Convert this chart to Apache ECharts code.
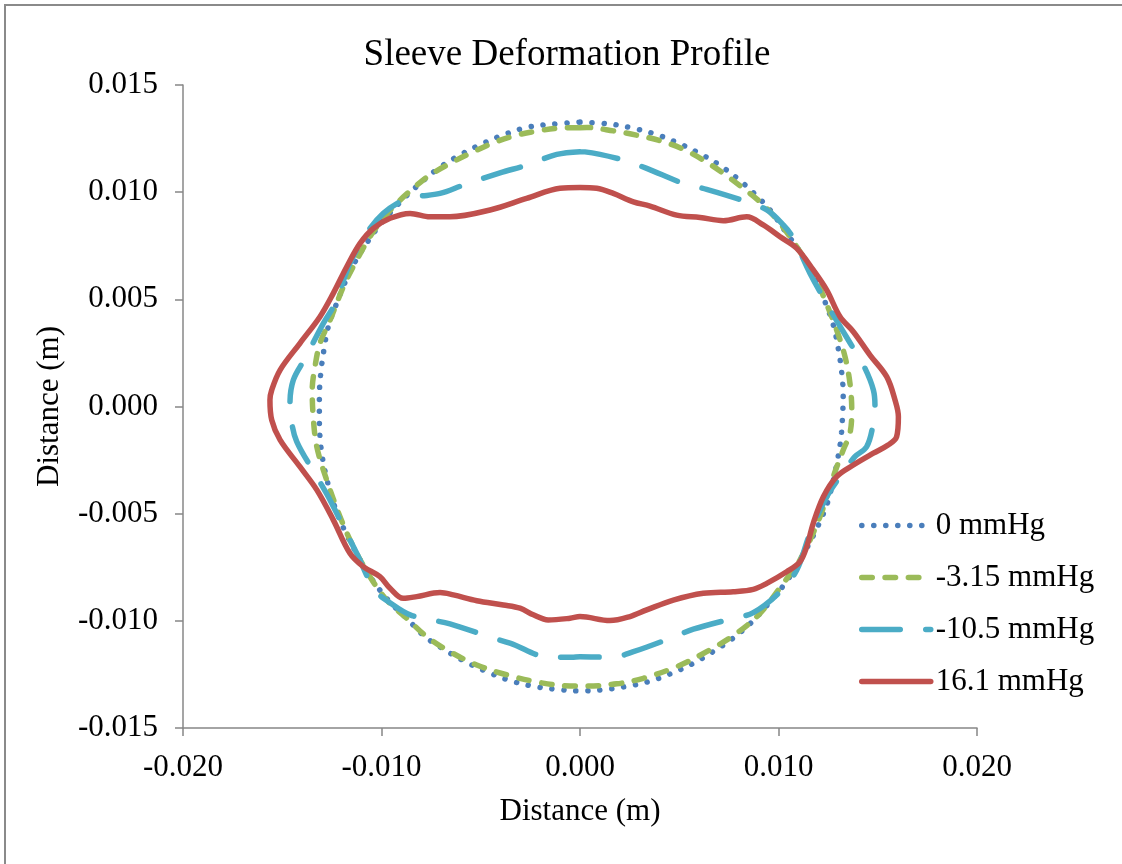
<!DOCTYPE html>
<html>
<head>
<meta charset="utf-8">
<title>Sleeve Deformation Profile</title>
<script src="https://cdn.jsdelivr.net/npm/echarts@6/dist/echarts.min.js"></script>
<style>
  html, body { margin: 0; padding: 0; background: #ffffff; }
  #chart { width: 1122px; height: 864px; }
</style>
</head>
<body>
<div id="chart"></div>
<script>
// Sleeve cross-section outlines (metres) at four pressure levels, traced clockwise from the top.
const seriesNames = ['0 mmHg', '-3.15 mmHg', '-10.5 mmHg', '16.1 mmHg'];

const p0X = [0, 0.00151, 0.00269, 0.00378, 0.00487, 0.00596, 0.00697, 0.00797, 0.00882, 0.00957, 0.01041, 0.01125, 0.01184, 0.01234, 0.01276, 0.01301, 0.01318, 0.01326, 0.01323, 0.01315, 0.01298, 0.01275, 0.01243, 0.01190, 0.01125, 0.01049, 0.00950, 0.00856, 0.00764, 0.00663, 0.00563, 0.00453, 0.00344, 0.00227, 0.00109, 0, -0.00126, -0.00243, -0.00361, -0.00470, -0.00579, -0.00680, -0.00781, -0.00865, -0.00960, -0.01045, -0.01120, -0.01185, -0.01240, -0.01280, -0.01305, -0.01313, -0.01313, -0.01306, -0.01290, -0.01268, -0.01226, -0.01159, -0.01090, -0.01010, -0.00920, -0.00825, -0.00715, -0.00596, -0.00487, -0.00378, -0.00269, -0.00151, 0];
const p0Y = [0.01327, 0.01318, 0.01298, 0.01271, 0.01232, 0.01184, 0.01130, 0.01061, 0.00990, 0.00917, 0.00808, 0.00699, 0.00598, 0.00489, 0.00380, 0.00271, 0.00162, 0.00054, -0.00040, -0.00145, -0.00245, -0.00350, -0.00460, -0.00575, -0.00690, -0.00805, -0.00920, -0.01014, -0.01086, -0.01148, -0.01202, -0.01248, -0.01284, -0.01307, -0.01322, -0.01327, -0.01319, -0.01304, -0.01276, -0.01237, -0.01190, -0.01136, -0.01074, -0.00996, -0.00910, -0.00810, -0.00695, -0.00580, -0.00455, -0.00320, -0.00190, -0.00060, 0.00046, 0.00155, 0.00264, 0.00372, 0.00481, 0.00629, 0.00740, 0.00845, 0.00940, 0.01025, 0.01110, 0.01178, 0.01228, 0.01270, 0.01302, 0.01316, 0.01327];

const m315X = [0, 0.00034, 0.00168, 0.00286, 0.00403, 0.00521, 0.00621, 0.00722, 0.00823, 0.00915, 0.01008, 0.01092, 0.01175, 0.01234, 0.01293, 0.01335, 0.01360, 0.01369, 0.01360, 0.01326, 0.01276, 0.01209, 0.01108, 0.01024, 0.00907, 0.00789, 0.00638, 0.00487, 0.00319, 0.00185, 0.00034, -0.00050, -0.00202, -0.00369, -0.00520, -0.00655, -0.00772, -0.00873, -0.00974, -0.01058, -0.01142, -0.01209, -0.01276, -0.01326, -0.01344, -0.01349, -0.01335, -0.01310, -0.01259, -0.01192, -0.01125, -0.01058, -0.00991, -0.00923, -0.00840, -0.00756, -0.00655, -0.00554, -0.00437, -0.00336, -0.00218, -0.00084, 0];
const m315Y = [0.01301, 0.01302, 0.01286, 0.01266, 0.01240, 0.01200, 0.01150, 0.01088, 0.01018, 0.00948, 0.00854, 0.00745, 0.00621, 0.00497, 0.00357, 0.00233, 0.00108, -0.00016, -0.00125, -0.00203, -0.00327, -0.00514, -0.00716, -0.00825, -0.00965, -0.01058, -0.01144, -0.01214, -0.01268, -0.01294, -0.01304, -0.01304, -0.01288, -0.01252, -0.01206, -0.01144, -0.01074, -0.00988, -0.00903, -0.00794, -0.00654, -0.00514, -0.00343, -0.00188, -0.00048, 0.00077, 0.00186, 0.00295, 0.00403, 0.00559, 0.00683, 0.00792, 0.00878, 0.00948, 0.01018, 0.01080, 0.01134, 0.01181, 0.01230, 0.01262, 0.01285, 0.01300, 0.01301];

const m105X = [0, 0.00025, 0.00218, 0.00336, 0.00520, 0.00638, 0.00823, 0.00941, 0.01024, 0.01075, 0.01159, 0.01276, 0.01377, 0.01436, 0.01478, 0.01486, 0.01478, 0.01444, 0.01385, 0.01310, 0.01243, 0.01159, 0.01092, 0.01008, 0.00873, 0.00772, 0.00571, 0.00470, 0.00269, 0.00160, 0, -0.00042, -0.00151, -0.00353, -0.00453, -0.00655, -0.00764, -0.00856, -0.00941, -0.01033, -0.01125, -0.01192, -0.01268, -0.01326, -0.01427, -0.01456, -0.01461, -0.01444, -0.01385, -0.01293, -0.01234, -0.01159, -0.01075, -0.00991, -0.00890, -0.00823, -0.00705, -0.00588, -0.00403, -0.00269, -0.00117, 0];
const m105Y = [0.01189, 0.01188, 0.01150, 0.01111, 0.01041, 0.01013, 0.00960, 0.00917, 0.00847, 0.00785, 0.00621, 0.00427, 0.00271, 0.00178, 0.00077, -0.00001, -0.00078, -0.00188, -0.00234, -0.00327, -0.00421, -0.00591, -0.00763, -0.00864, -0.00962, -0.00988, -0.01039, -0.01076, -0.01144, -0.01170, -0.01167, -0.01170, -0.01170, -0.01104, -0.01076, -0.01014, -0.00993, -0.00972, -0.00926, -0.00856, -0.00685, -0.00561, -0.00421, -0.00327, -0.00164, -0.00055, 0.00015, 0.00124, 0.00225, 0.00388, 0.00481, 0.00668, 0.00808, 0.00901, 0.00963, 0.00979, 0.00994, 0.01033, 0.01090, 0.01126, 0.01176, 0.01189];

const p161X = [0, 0.00084, 0.00168, 0.00269, 0.00353, 0.00487, 0.00605, 0.00722, 0.00840, 0.00923, 0.01008, 0.01092, 0.01175, 0.01243, 0.01310, 0.01377, 0.01461, 0.01545, 0.01587, 0.01604, 0.01595, 0.01552, 0.01478, 0.01377, 0.01293, 0.01226, 0.01175, 0.01142, 0.01108, 0.01041, 0.00941, 0.00873, 0.00772, 0.00621, 0.00470, 0.00336, 0.00252, 0.00151, 0, -0.00050, -0.00160, -0.00235, -0.00302, -0.00386, -0.00520, -0.00638, -0.00705, -0.00823, -0.00890, -0.00957, -0.01008, -0.01092, -0.01159, -0.01243, -0.01326, -0.01411, -0.01511, -0.01553, -0.01562, -0.01553, -0.01511, -0.01411, -0.01310, -0.01243, -0.01175, -0.01108, -0.01041, -0.00957, -0.00856, -0.00756, -0.00655, -0.00453, -0.00269, -0.00101, 0];
const p161Y = [0.01022, 0.01018, 0.00994, 0.00955, 0.00935, 0.00893, 0.00882, 0.00867, 0.00885, 0.00847, 0.00792, 0.00738, 0.00637, 0.00543, 0.00419, 0.00349, 0.00240, 0.00139, 0.00030, -0.00048, -0.00141, -0.00180, -0.00218, -0.00273, -0.00327, -0.00421, -0.00545, -0.00654, -0.00724, -0.00771, -0.00825, -0.00853, -0.00864, -0.00871, -0.00903, -0.00949, -0.00980, -0.00999, -0.00980, -0.00988, -0.00996, -0.00972, -0.00941, -0.00926, -0.00906, -0.00879, -0.00868, -0.00887, -0.00895, -0.00848, -0.00794, -0.00747, -0.00685, -0.00529, -0.00389, -0.00281, -0.00156, -0.00063, 0.00030, 0.00077, 0.00170, 0.00295, 0.00419, 0.00528, 0.00652, 0.00761, 0.00831, 0.00878, 0.00901, 0.00885, 0.00885, 0.00917, 0.00971, 0.01018, 0.01022];

// Axis ranges and tick steps
const xTicks = { min: -0.02, max: 0.02, step: 0.01 };
const yTicks = { min: -0.015, max: 0.015, step: 0.005 };

const SERIF = "'Liberation Serif', 'Times New Roman', serif";
const AXIS_GRAY = '#878787';
const LABEL_SIZE = 31;

function zip(xs, ys) {
  return xs.map((x, i) => [x, ys[i]]);
}
function fmt(v) {
  return Math.abs(v) < 1e-9 ? '0.000' : v.toFixed(3);
}

const styles = [
  { color: '#4A7EBB', width: 5.5, type: [0.1, 11.9] },
  { color: '#9BBB59', width: 5.5, type: [10.5, 12.8] },
  { color: '#4BACC6', width: 5.5, type: [38.5, 25.5] },
  { color: '#C0504D', width: 5.5, type: 'solid' }
];
const outlines = [zip(p0X, p0Y), zip(m315X, m315Y), zip(m105X, m105Y), zip(p161X, p161Y)];

const axisCommon = {
  type: 'value',
  nameLocation: 'middle',
  nameTextStyle: { fontFamily: SERIF, fontSize: LABEL_SIZE, color: '#000', lineHeight: 30 },
  axisLine: { show: true, onZero: false, lineStyle: { color: AXIS_GRAY, width: 1.5 } },
  axisTick: { show: true, inside: false, length: 8, lineStyle: { color: AXIS_GRAY, width: 1.5 } },
  splitLine: { show: false },
  axisLabel: { fontFamily: SERIF, fontSize: LABEL_SIZE, color: '#000', lineHeight: 30, margin: 25, formatter: fmt }
};

const chart = echarts.init(document.getElementById('chart'), null, { renderer: 'canvas' });
chart.setOption({
  animation: false,
  backgroundColor: '#ffffff',
  title: {
    text: 'Sleeve Deformation Profile',
    left: 567,
    textAlign: 'center',
    top: 37,
    padding: 0,
    textStyle: { fontFamily: SERIF, fontSize: 37, fontWeight: 'normal', color: '#000', lineHeight: 37 }
  },
  graphic: [{
    type: 'rect',
    silent: true,
    z: -10,
    shape: { x: 5, y: 5, width: 1400, height: 1200 },
    style: { fill: 'none', stroke: '#8a8a8a', lineWidth: 2 }
  }],
  grid: { left: 183, right: 145, top: 85, bottom: 136, containLabel: false },
  xAxis: Object.assign({}, axisCommon, {
    name: 'Distance (m)',
    nameGap: 69,
    min: xTicks.min, max: xTicks.max, interval: xTicks.step
  }),
  yAxis: Object.assign({}, axisCommon, {
    name: 'Distance (m)',
    nameGap: 118,
    nameRotate: 90,
    min: yTicks.min, max: yTicks.max, interval: yTicks.step
  }),
  legend: {
    orient: 'vertical',
    left: 859,
    top: 510,
    padding: 0,
    itemWidth: 69,
    itemHeight: 14,
    itemGap: 21,
    selectedMode: false,
    data: seriesNames,
    itemStyle: { opacity: 0 },
    lineStyle: { width: 5.5, cap: 'round' },
    textStyle: { fontFamily: SERIF, fontSize: LABEL_SIZE, color: '#000', lineHeight: 30 }
  },
  series: outlines.map((pts, i) => ({
    name: seriesNames[i],
    type: 'line',
    data: pts,
    symbol: 'none',
    smooth: 0.35,
    clip: false,
    lineStyle: {
      color: styles[i].color,
      width: styles[i].width,
      type: styles[i].type,
      cap: 'round',
      join: 'round'
    },
    itemStyle: { color: styles[i].color }
  }))
});
</script>
</body>
</html>
